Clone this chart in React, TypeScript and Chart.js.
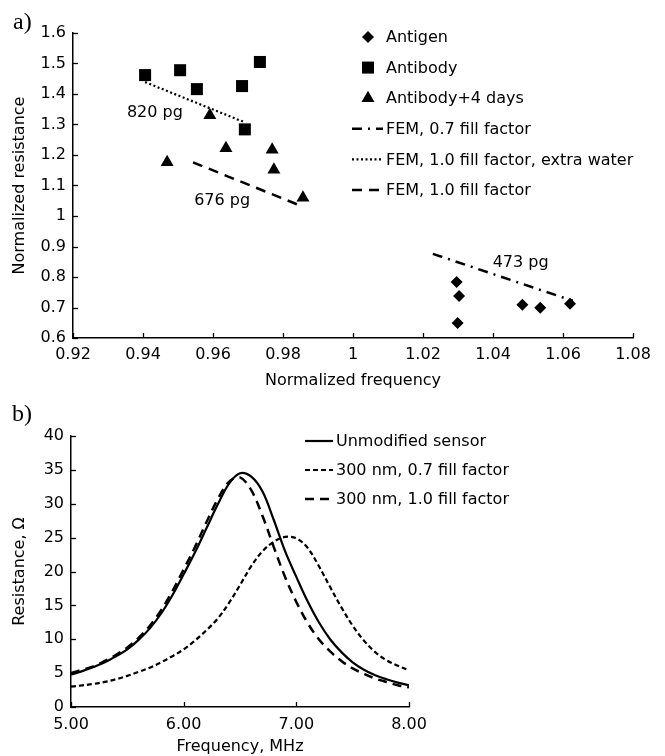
import React, { useEffect, useRef } from 'react';
import { Chart, registerables } from 'chart.js';
Chart.register(...registerables);

const FONT = '"DejaVu Sans", "Open Sans", sans-serif';
const FS = 16;
const INK = '#000000';

// ---------- Panel a data ----------
const antigenX = [1.0296, 1.0303, 1.0299, 1.0484, 1.0535, 1.062];
const antigenY = [0.784, 0.738, 0.649, 0.709, 0.699, 0.712];
const antibodyX = [0.9406, 0.9506, 0.9554, 0.9683, 0.9734, 0.9691];
const antibodyY = [1.462, 1.478, 1.416, 1.426, 1.505, 1.284];
const antibody4X = [0.9591, 0.9637, 0.9469, 0.9769, 0.9774, 0.9857];
const antibody4Y = [1.33, 1.222, 1.176, 1.217, 1.152, 1.06];
const fem07X = [1.0228, 1.0628];
const fem07Y = [0.876, 0.722];
const femWaterX = [0.9406, 0.9691];
const femWaterY = [1.439, 1.307];
const fem10X = [0.9543, 0.9843];
const fem10Y = [1.176, 1.037];
const massLabels = ['820 pg', '676 pg', '473 pg'];
const massX = [0.9434, 0.9626, 1.0479];
const massY = [1.337, 1.051, 0.847];
const seriesA = ['Antigen', 'Antibody', 'Antibody+4 days', 'FEM, 0.7 fill factor', 'FEM, 1.0 fill factor, extra water', 'FEM, 1.0 fill factor'];

// ---------- Panel b data ----------
const freq = [5.0, 5.1, 5.2, 5.3, 5.4, 5.5, 5.6, 5.7, 5.8, 5.9, 6.0, 6.1, 6.2, 6.3, 6.4, 6.5, 6.6, 6.7, 6.8, 6.9, 7.0, 7.1, 7.2, 7.3, 7.4, 7.5, 7.6, 7.7, 7.8, 7.9, 8.0];
const unmodified = [4.8, 5.3, 5.9, 6.6, 7.5, 8.5, 9.9, 11.6, 13.8, 16.5, 19.6, 22.8, 26.3, 29.8, 32.9, 34.5, 34.0, 31.8, 27.6, 23.0, 19.2, 15.6, 12.5, 10.0, 8.1, 6.6, 5.5, 4.7, 4.1, 3.6, 3.2];
const fill07 = [3.0, 3.2, 3.4, 3.7, 4.1, 4.6, 5.2, 5.8, 6.6, 7.5, 8.5, 9.8, 11.3, 13.0, 15.3, 18.0, 20.8, 23.0, 24.4, 25.1, 24.9, 23.5, 20.8, 17.7, 14.7, 12.0, 9.8, 8.1, 6.9, 6.1, 5.4];
const fill10 = [5.0, 5.5, 6.0, 6.8, 7.7, 8.8, 10.2, 12.0, 14.3, 17.1, 20.3, 23.6, 27.2, 30.6, 33.2, 33.9, 32.0, 28.2, 23.6, 19.2, 15.5, 12.4, 10.0, 8.2, 6.8, 5.7, 4.9, 4.2, 3.7, 3.2, 2.9];
const seriesB = ['Unmodified sensor', '300 nm, 0.7 fill factor', '300 nm, 1.0 fill factor'];

const pts = (xs: number[], ys: number[]) => xs.map((x, i) => ({ x, y: ys[i] }));

function drawMarker(ctx: CanvasRenderingContext2D, style: string, r: number, x: number, y: number) {
  ctx.save();
  ctx.fillStyle = INK;
  ctx.beginPath();
  if (style === 'rect') {
    const s = Math.SQRT1_2 * r;
    ctx.rect(x - s, y - s, 2 * s, 2 * s);
  } else if (style === 'rectRot') {
    ctx.moveTo(x, y - r);
    ctx.lineTo(x + r, y);
    ctx.lineTo(x, y + r);
    ctx.lineTo(x - r, y);
    ctx.closePath();
  } else if (style === 'triangle') {
    ctx.moveTo(x, y - r);
    ctx.lineTo(x + r * Math.sin(Math.PI / 3), y + r / 2);
    ctx.lineTo(x - r * Math.sin(Math.PI / 3), y + r / 2);
    ctx.closePath();
  }
  ctx.fill();
  ctx.restore();
}

const inwardTicks = {
  id: 'inwardTicks',
  afterDraw(chart: any) {
    const ctx = chart.ctx;
    const { x, y } = chart.scales;
    ctx.save();
    ctx.strokeStyle = INK;
    ctx.lineWidth = 1.3;
    x.ticks.forEach((t: any) => {
      const px = Math.round(x.getPixelForValue(t.value)) + 0.5;
      ctx.beginPath();
      ctx.moveTo(px, x.top);
      ctx.lineTo(px, x.top - 5);
      ctx.stroke();
    });
    y.ticks.forEach((t: any) => {
      const py = Math.round(y.getPixelForValue(t.value)) + 0.5;
      ctx.beginPath();
      ctx.moveTo(y.right, py);
      ctx.lineTo(y.right + 5, py);
      ctx.stroke();
    });
    ctx.restore();
  },
};

const legendPlugin = (opts: { mx: number; lx0: number; lx1: number; tx: number; y0: number; dy: number }) => ({
  id: 'customLegend',
  afterDraw(chart: any) {
    const ctx = chart.ctx;
    ctx.save();
    ctx.font = `${FS}px ${FONT}`;
    ctx.textBaseline = 'middle';
    ctx.textAlign = 'left';
    chart.data.datasets.forEach((ds: any, i: number) => {
      const yy = opts.y0 + i * opts.dy;
      if (ds.showLine) {
        ctx.save();
        ctx.strokeStyle = INK;
        ctx.lineWidth = ds.borderWidth;
        ctx.setLineDash(ds.borderDash || []);
        ctx.beginPath();
        ctx.moveTo(opts.lx0, yy);
        ctx.lineTo(opts.lx1, yy);
        ctx.stroke();
        ctx.restore();
      } else {
        drawMarker(ctx, ds.pointStyle, ds.pointRadius, opts.mx, yy);
      }
      ctx.fillStyle = INK;
      ctx.fillText(ds.label, opts.tx, yy + 1);
    });
    ctx.restore();
  },
});

const massLabelPlugin = {
  id: 'massLabels',
  afterDraw(chart: any) {
    const ctx = chart.ctx;
    const { x, y } = chart.scales;
    ctx.save();
    ctx.font = `${FS}px ${FONT}`;
    ctx.textAlign = 'center';
    ctx.textBaseline = 'middle';
    ctx.fillStyle = INK;
    massLabels.forEach((t, i) => ctx.fillText(t, x.getPixelForValue(massX[i]), y.getPixelForValue(massY[i])));
    ctx.restore();
  },
};

const fmt = (v: number, d: number) => String(Number(Number(v).toFixed(d)));

function ChartA() {
  const ref = useRef<HTMLCanvasElement>(null);
  useEffect(() => {
    const chart = new Chart(ref.current!, {
      type: 'scatter',
      data: {
        datasets: [
          { label: seriesA[0], data: pts(antigenX, antigenY), pointStyle: 'rectRot', pointRadius: 6, backgroundColor: INK, borderColor: INK, borderWidth: 0, showLine: false },
          { label: seriesA[1], data: pts(antibodyX, antibodyY), pointStyle: 'rect', pointRadius: 8.5, backgroundColor: INK, borderColor: INK, borderWidth: 0, showLine: false },
          { label: seriesA[2], data: pts(antibody4X, antibody4Y), pointStyle: 'triangle', pointRadius: 7.5, backgroundColor: INK, borderColor: INK, borderWidth: 0, showLine: false },
          { label: seriesA[3], data: pts(fem07X, fem07Y), showLine: true, pointRadius: 0, borderColor: INK, borderWidth: 2.5, borderDash: [10, 6, 2, 6] },
          { label: seriesA[4], data: pts(femWaterX, femWaterY), showLine: true, pointRadius: 0, borderColor: INK, borderWidth: 2.2, borderDash: [2, 2.5] },
          { label: seriesA[5], data: pts(fem10X, fem10Y), showLine: true, pointRadius: 0, borderColor: INK, borderWidth: 2.5, borderDash: [10, 7] },
        ] as any,
      },
      options: {
        responsive: false,
        animation: false,
        layout: { padding: { top: 33, right: 32, left: 0, bottom: 0 } },
        plugins: { legend: { display: false }, tooltip: { enabled: false } },
        scales: {
          x: {
            type: 'linear', min: 0.92, max: 1.08,
            afterFit: (s: any) => { s.height = 52; },
            ticks: { stepSize: 0.02, padding: 7, color: INK, font: { family: FONT, size: FS }, callback: (v: any) => fmt(v, 2) },
            grid: { display: true, drawOnChartArea: false, drawTicks: false },
            border: { color: INK, width: 1.5 },
            title: { display: true, text: 'Normalized frequency', color: INK, font: { family: FONT, size: FS }, padding: { top: 0, bottom: 0 } },
          },
          y: {
            type: 'linear', min: 0.6, max: 1.6,
            afterFit: (s: any) => { s.width = 73; },
            ticks: { stepSize: 0.1, padding: 7, color: INK, font: { family: FONT, size: FS }, callback: (v: any) => fmt(v, 1) },
            grid: { display: true, drawOnChartArea: false, drawTicks: false },
            border: { color: INK, width: 1.5 },
            title: { display: true, text: 'Normalized resistance', color: INK, font: { family: FONT, size: FS }, padding: { top: 10, bottom: 0 } },
          },
        },
      } as any,
      plugins: [inwardTicks, massLabelPlugin, legendPlugin({ mx: 368, lx0: 352, lx1: 383, tx: 386, y0: 37, dy: 30.6 })],
    });
    return () => chart.destroy();
  }, []);
  return <canvas ref={ref} width={665} height={390} style={{ position: 'absolute', left: 0, top: 0 }} />;
}

function ChartB() {
  const ref = useRef<HTMLCanvasElement>(null);
  useEffect(() => {
    const common = { showLine: true, pointRadius: 0, borderColor: INK, tension: 0.35 };
    const chart = new Chart(ref.current!, {
      type: 'scatter',
      data: {
        datasets: [
          { ...common, label: seriesB[0], data: pts(freq, unmodified), borderWidth: 2.2 },
          { ...common, label: seriesB[1], data: pts(freq, fill07), borderWidth: 2.2, borderDash: [5, 3] },
          { ...common, label: seriesB[2], data: pts(freq, fill10), borderWidth: 2.5, borderDash: [9, 6] },
        ] as any,
      },
      options: {
        responsive: false,
        animation: false,
        layout: { padding: { top: 46, right: 256, left: 0, bottom: 0 } },
        plugins: { legend: { display: false }, tooltip: { enabled: false } },
        scales: {
          x: {
            type: 'linear', min: 5, max: 8,
            afterFit: (s: any) => { s.height = 49; },
            ticks: { stepSize: 1, padding: 8, color: INK, font: { family: FONT, size: FS }, callback: (v: any) => Number(v).toFixed(2) },
            grid: { display: true, drawOnChartArea: false, drawTicks: false },
            border: { color: INK, width: 1.5 },
            title: { display: true, text: 'Frequency, MHz', color: INK, font: { family: FONT, size: FS }, padding: { top: 0, bottom: 0 } },
          },
          y: {
            type: 'linear', min: 0, max: 40,
            afterFit: (s: any) => { s.width = 71; },
            ticks: { stepSize: 5, padding: 7, color: INK, font: { family: FONT, size: FS } },
            grid: { display: true, drawOnChartArea: false, drawTicks: false },
            border: { color: INK, width: 1.5 },
            title: { display: true, text: 'Resistance, Ω', color: INK, font: { family: FONT, size: FS }, padding: { top: 10, bottom: 0 } },
          },
        },
      } as any,
      plugins: [inwardTicks, legendPlugin({ mx: 319, lx0: 305, lx1: 333, tx: 336, y0: 51, dy: 29 })],
    });
    return () => chart.destroy();
  }, []);
  return <canvas ref={ref} width={665} height={366} style={{ position: 'absolute', left: 0, top: 390 }} />;
}

export default function App() {
  const labelStyle: React.CSSProperties = { position: 'absolute', fontFamily: '"Liberation Serif", "Times New Roman", serif', fontSize: 24, lineHeight: '28px', color: INK };
  return (
    <div style={{ position: 'absolute', left: 0, top: 0, width: 665, height: 756, background: '#fff', overflow: 'hidden' }}>
      <ChartA />
      <ChartB />
      <div style={{ ...labelStyle, left: 13, top: 7 }}>a)</div>
      <div style={{ ...labelStyle, left: 12, top: 399 }}>b)</div>
    </div>
  );
}
